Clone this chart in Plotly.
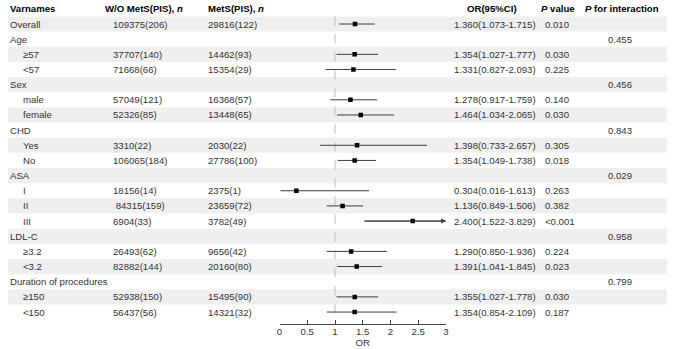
import plotly.graph_objects as go

W, H = 674, 349

labels = ["Overall", "Age", "≥57", "<57", "Sex", "male", "female", "CHD", "Yes", "No",
          "ASA", "I", "II", "III", "LDL-C", "≥3.2", "<3.2", "Duration of procedures", "≥150", "<150"]
indent = [False, False, True, True, False, True, True, False, True, True,
          False, True, True, True, False, True, True, False, True, True]
wo_mets = ["109375(206)", "", "37707(140)", "71668(66)", "", "57049(121)", "52326(85)", "",
           "3310(22)", "106065(184)", "", "18156(14)", " 84315(159)", "6904(33)", "",
           "26493(62)", "82882(144)", "", "52938(150)", "56437(56)"]
mets = ["29816(122)", "", "14462(93)", "15354(29)", "", "16368(57)", "13448(65)", "",
        "2030(22)", "27786(100)", "", "2375(1)", "23659(72)", "3782(49)", "",
        "9656(42)", "20160(80)", "", "15495(90)", "14321(32)"]
or_val = [1.360, None, 1.354, 1.331, None, 1.278, 1.464, None, 1.398, 1.354,
          None, 0.304, 1.136, 2.400, None, 1.290, 1.391, None, 1.355, 1.354]
ci_lo = [1.073, None, 1.027, 0.827, None, 0.917, 1.034, None, 0.733, 1.049,
         None, 0.016, 0.849, 1.522, None, 0.850, 1.041, None, 1.027, 0.854]
ci_hi = [1.715, None, 1.777, 2.093, None, 1.759, 2.065, None, 2.657, 1.738,
         None, 1.613, 1.506, 3.829, None, 1.936, 1.845, None, 1.778, 2.109]
p_value = ["0.010", "", "0.030", "0.225", "", "0.140", "0.030", "", "0.305", "0.018",
           "", "0.263", "0.382", "<0.001", "", "0.224", "0.023", "", "0.030", "0.187"]
p_inter = ["", "0.455", "", "", "0.456", "", "", "0.843", "", "",
           "0.029", "", "", "", "0.958", "", "", "0.799", "", ""]
headers = ["Varnames", "W/O MetS(PIS), <i>n</i>", "MetS(PIS), <i>n</i>", "OR(95%CI)",
           "<i>P</i> value", "<i>P</i> for interaction"]
x_ticks = [0, 0.5, 1, 1.5, 2, 2.5, 3]
x_max = 3

FONT = "Liberation Sans, Arial, sans-serif"
TXT = "#333333"
FS = 9.6

n = len(labels)
pitch = 15.16
top = 24.0
y_lo = -top / pitch
y_hi = (H - top) / pitch
AXIS_PX = 324

def esc(s):
    return s.replace("<", "&lt;") if not s.startswith("<i>") else s

fig = go.Figure()

lx, ly = [], []
for i in range(n):
    if or_val[i] is None:
        continue
    lx += [ci_lo[i], min(ci_hi[i], x_max), None]
    ly += [i, i, None]
fig.add_trace(go.Scatter(x=lx, y=ly, mode="lines", line=dict(color="#3d3d3d", width=1),
                         hoverinfo="skip", showlegend=False))
pts = [i for i in range(n) if or_val[i] is not None]
fig.add_trace(go.Scatter(x=[or_val[i] for i in pts], y=pts, mode="markers",
                         marker=dict(symbol="square", size=4.5, color="black"),
                         showlegend=False))

shapes = []
for i in range(n):
    if i % 2 == 0:
        shapes.append(dict(type="rect", xref="paper", yref="y", x0=5 / W, x1=670 / W,
                           y0=i - 0.5, y1=i + 0.5, fillcolor="#efefef", line=dict(width=0),
                           layer="below"))
shapes.append(dict(type="line", xref="x", yref="y", x0=1, x1=1, y0=-0.5, y1=(AXIS_PX - 2 - top) / pitch,
                   line=dict(color="#bdbdbd", width=1, dash="dash"), layer="below"))

ann = []
def add(xpx, y, text, bold=False, color=TXT):
    ann.append(dict(x=xpx / W, y=y, xref="paper", yref="y", text=("<b>%s</b>" % text) if bold else text,
                    showarrow=False, xanchor="left", yanchor="middle",
                    font=dict(family=FONT, size=FS, color=color), borderpad=0, borderwidth=0))

hx = [7, 103, 207, 468, 543, 587]
for xpx, h in zip(hx, headers):
    add(xpx, -1, h, bold=True, color="black")

for i in range(n):
    add(20 if indent[i] else 7, i, esc(labels[i]))
    if wo_mets[i]:
        add(111, i, wo_mets[i])
    if mets[i]:
        add(207, i, mets[i])
    if or_val[i] is not None:
        add(455, i, "%.3f(%.3f-%.3f)" % (or_val[i], ci_lo[i], ci_hi[i]))
    if p_value[i]:
        add(547, i, esc(p_value[i]))
    if p_inter[i]:
        add(610, i, p_inter[i])

for i in range(n):
    if ci_hi[i] is not None and ci_hi[i] > x_max:
        ann.append(dict(x=x_max, y=i, xref="x", yref="y", ax=ci_lo[i], ay=i, axref="x", ayref="y",
                        showarrow=True, arrowhead=2, arrowsize=1, arrowwidth=1, arrowcolor="#3d3d3d",
                        text=""))

fig.update_layout(
    width=W, height=H, margin=dict(l=0, r=0, t=0, b=0),
    paper_bgcolor="white", plot_bgcolor="rgba(0,0,0,0)",
    shapes=shapes, annotations=ann, showlegend=False,
    xaxis=dict(domain=[279 / W, 447 / W], range=[0, x_max], anchor="free", position=1 - AXIS_PX / H,
               showgrid=False, zeroline=False, showline=True, linecolor="#444", linewidth=1,
               ticks="inside", ticklen=4, tickcolor="#444", tickvals=x_ticks,
               ticktext=[("%g" % t) for t in x_ticks], ticklabelstandoff=-2,
               tickfont=dict(family=FONT, size=FS, color=TXT),
               title=dict(text="OR", font=dict(family=FONT, size=FS, color=TXT), standoff=1)),
    yaxis=dict(domain=[0, 1], range=[y_hi, y_lo], visible=False),
)

fig.write_html("out.html")
